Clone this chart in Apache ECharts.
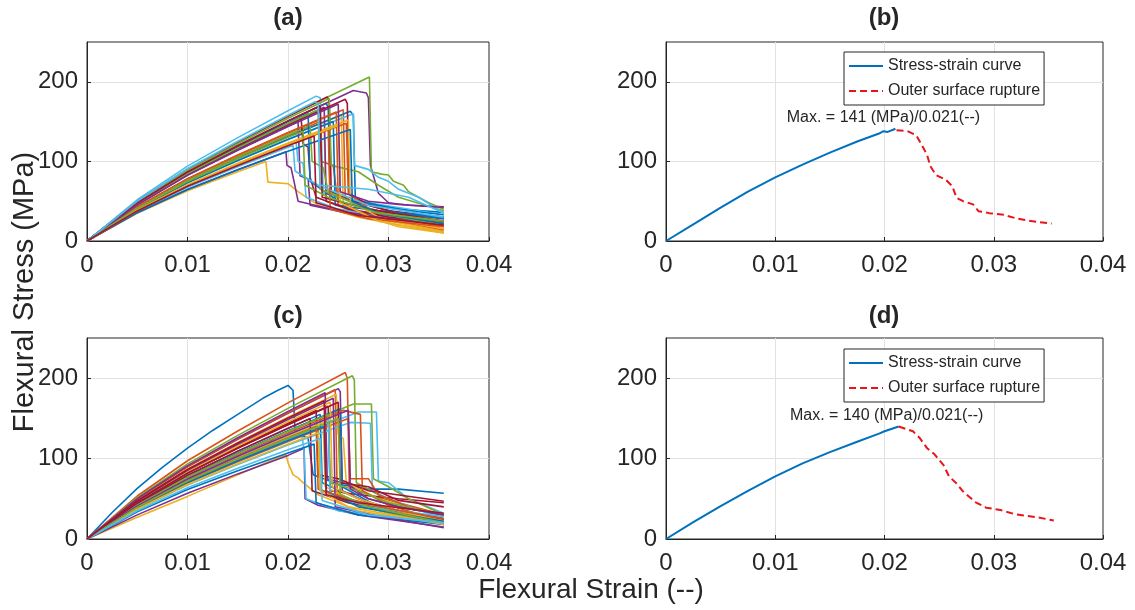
<!DOCTYPE html>
<html>
<head>
<meta charset="utf-8">
<script src="https://cdn.jsdelivr.net/npm/echarts@6/dist/echarts.min.js"></script>
<style>
html,body{margin:0;padding:0;background:#fff;}
#chart{width:1135px;height:610px;}
</style>
</head>
<body>
<div id="chart"></div>
<script>
// ---------------- DATA ----------------
const xTicks = [0, 0.01, 0.02, 0.03, 0.04];
const yTicks = [0, 100, 200];
const panelTitles = ['(a)', '(b)', '(c)', '(d)'];
const xAxisName = 'Flexural Strain (--)';
const yAxisName = 'Flexural Stress (MPa)';
const legendNames = ['Stress-strain curve', 'Outer surface rupture'];

// panel (a): individual specimen curves [strain, stress]
const curvesA = [
[[0,0],[0.005,47.5],[0.01,86.4],[0.015,119.3],[0.02,150.4],[0.0238,173],[0.0240,168],[0.0242,58],[0.027,48],[0.031,40],[0.0355,36]],
[[0,0],[0.005,42.9],[0.01,78],[0.015,107.7],[0.02,135.8],[0.0255,165],[0.0257,55],[0.028,40],[0.031,28],[0.0355,20]],
[[0,0],[0.005,41.3],[0.01,75.2],[0.015,103.7],[0.02,130.8],[0.0253,158],[0.0255,45],[0.028,30],[0.031,18],[0.0355,10]],
[[0,0],[0.005,47.7],[0.01,86.7],[0.015,119.6],[0.02,150.8],[0.0265,189],[0.0278,186],[0.0280,180],[0.0282,95],[0.029,60],[0.030,48],[0.032,45],[0.0355,43]],
[[0,0],[0.005,49.6],[0.01,90.1],[0.015,124],[0.02,157],[0.0281,206],[0.0283,87],[0.0293,84],[0.030,83],[0.0305,75],[0.0315,70],[0.032,62],[0.033,55],[0.034,48],[0.0355,40]],
[[0,0],[0.005,51.8],[0.01,94.1],[0.015,129.9],[0.02,163.7],[0.0228,182],[0.0232,180],[0.0235,60],[0.027,50],[0.031,42],[0.0355,33]],
[[0,0],[0.005,49.6],[0.01,90.1],[0.015,124.4],[0.02,156.8],[0.0239,181],[0.0241,176],[0.0243,62],[0.026,52],[0.028,45],[0.030,38],[0.0355,30]],
[[0,0],[0.005,41.5],[0.01,75.4],[0.015,104.1],[0.02,131.2],[0.0262,163],[0.0265,158],[0.0267,52],[0.029,45],[0.032,38],[0.0355,33]],
[[0,0],[0.005,42.1],[0.01,76.5],[0.015,105.6],[0.02,133.1],[0.0232,150],[0.0233,100],[0.0245,95],[0.025,45],[0.029,30],[0.0355,15]],
[[0,0],[0.005,38.2],[0.01,69.4],[0.015,95.8],[0.02,120.8],[0.0236,138],[0.0238,50],[0.028,30],[0.0355,12]],
[[0,0],[0.005,46.5],[0.01,84.5],[0.015,116.6],[0.02,147],[0.0236,168],[0.0238,50],[0.027,38],[0.031,30],[0.0355,25]],
[[0,0],[0.005,48.7],[0.01,88.6],[0.015,122.2],[0.02,154.1],[0.0241,179],[0.0243,95],[0.026,90],[0.027,87],[0.029,70],[0.031,55],[0.0355,38]],
[[0,0],[0.005,40.3],[0.01,73.4],[0.015,101.2],[0.02,127.7],[0.0265,160],[0.0266,95],[0.028,90],[0.029,80],[0.030,75],[0.031,65],[0.032,60],[0.033,55],[0.0355,35]],
[[0,0],[0.005,46],[0.01,83.7],[0.015,115.5],[0.02,145.6],[0.0257,178],[0.0259,173],[0.0261,60],[0.028,45],[0.031,35],[0.0355,28]],
[[0,0],[0.005,40.3],[0.01,73.2],[0.015,101],[0.02,127.4],[0.0245,150],[0.0247,45],[0.029,38],[0.0355,30]],
[[0,0],[0.005,38.1],[0.01,69.4],[0.015,95.7],[0.02,120.7],[0.0258,148],[0.0260,60],[0.029,32],[0.0355,18]],
[[0,0],[0.005,34.7],[0.01,63.1],[0.015,87],[0.0178,100],[0.0180,74],[0.0200,72],[0.0210,62],[0.023,45],[0.027,30],[0.031,20],[0.0355,12]],
[[0,0],[0.005,45.5],[0.01,82.8],[0.015,114.3],[0.02,144.1],[0.0210,150],[0.0212,82],[0.022,78],[0.0222,45],[0.026,35],[0.0355,25]],
[[0,0],[0.005,42.1],[0.01,76.6],[0.015,105.7],[0.02,133.3],[0.0222,145],[0.0224,100],[0.0235,92],[0.024,62],[0.028,40],[0.0355,22]],
[[0,0],[0.005,38.3],[0.01,69.6],[0.015,96],[0.02,121.1],[0.0208,125],[0.0210,100],[0.0215,98],[0.0218,55],[0.025,40],[0.0355,20]],
[[0,0],[0.005,46.5],[0.01,84.6],[0.015,116.8],[0.02,147.3],[0.0213,155],[0.0215,122],[0.022,118],[0.0222,80],[0.0228,55],[0.026,40],[0.030,30],[0.0355,22]],
[[0,0],[0.005,46.8],[0.01,85.1],[0.015,117.5],[0.02,148.1],[0.0220,160],[0.0222,75],[0.025,50],[0.029,38],[0.0355,28]],
[[0,0],[0.005,43.1],[0.01,78.3],[0.015,108.1],[0.02,136.3],[0.0248,162],[0.0250,50],[0.028,32],[0.0355,14]],
[[0,0],[0.005,38.9],[0.01,70.8],[0.015,97.7],[0.02,123.2],[0.0260,152],[0.0262,50],[0.029,30],[0.0355,15]],
[[0,0],[0.005,35.7],[0.01,64.8],[0.015,89.5],[0.0198,112],[0.0199,95],[0.0203,92],[0.0206,75],[0.021,50],[0.025,38],[0.030,28],[0.0355,22]],
[[0,0],[0.005,46.6],[0.01,84.8],[0.015,117],[0.02,147.6],[0.0230,165],[0.0232,65],[0.027,45],[0.031,30],[0.0355,20]],
[[0,0],[0.005,37.2],[0.01,67.6],[0.015,93.3],[0.02,117.8],[0.0205,120],[0.0207,88],[0.023,70],[0.025,60],[0.028,45],[0.0355,30]],
[[0,0],[0.005,47.7],[0.01,86.7],[0.015,119.6],[0.02,150.9],[0.0232,170],[0.0234,55],[0.028,40],[0.0355,25]],
[[0,0],[0.005,35.6],[0.01,64.8],[0.015,89.4],[0.02,112.7],[0.0262,140],[0.0264,50],[0.029,35],[0.0355,22]],
[[0,0],[0.005,38.2],[0.01,69.5],[0.015,95.9],[0.02,120.9],[0.0240,140],[0.0242,40],[0.028,28],[0.0355,18]],
[[0,0],[0.005,38.3],[0.01,69.7],[0.015,96.2],[0.02,121.3],[0.0250,145],[0.0252,48],[0.029,25],[0.0355,10]],
[[0,0],[0.005,45.4],[0.01,82.6],[0.015,114],[0.02,143.8],[0.0250,172],[0.0252,62],[0.028,50],[0.031,46],[0.0355,42]],
[[0,0],[0.005,41.1],[0.01,74.8],[0.015,103.2],[0.02,130.2],[0.0215,138],[0.0217,70],[0.024,55],[0.029,35],[0.0355,25]],
[[0,0],[0.005,50],[0.01,90.8],[0.015,125.3],[0.02,158],[0.0227,175],[0.0230,172],[0.0232,70],[0.028,65],[0.032,55],[0.0355,35]],
[[0,0],[0.005,37.8],[0.01,68.8],[0.015,94.9],[0.02,119.7],[0.0226,132],[0.0228,48],[0.027,32],[0.0355,20]]
];

// panel (c): individual specimen curves [strain, stress]
const curvesC = [
[[0,0],[0.0025,33],[0.005,63],[0.0075,89],[0.01,113],[0.0125,135],[0.015,155],[0.0175,175],[0.0190,185],[0.0200,191],[0.0205,185],[0.0207,135],[0.0215,128],[0.022,125],[0.0225,80],[0.025,68],[0.028,62],[0.031,62],[0.0355,57]],
[[0,0],[0.005,53.5],[0.01,97.3],[0.015,134.3],[0.02,169.3],[0.0257,207],[0.0259,200],[0.0261,65],[0.028,55],[0.031,45],[0.0355,30]],
[[0,0],[0.005,27],[0.01,53],[0.015,80],[0.0198,105],[0.0200,95],[0.0205,80],[0.021,76],[0.0215,70],[0.023,55],[0.027,35],[0.0355,18]],
[[0,0],[0.005,49.4],[0.01,89.8],[0.015,124],[0.02,156.3],[0.0250,187],[0.0252,183],[0.0254,60],[0.028,45],[0.031,35],[0.0355,18]],
[[0,0],[0.005,51.4],[0.01,93.4],[0.015,128.9],[0.02,162.5],[0.0264,203],[0.0266,198],[0.0268,70],[0.029,55],[0.032,40],[0.0355,28]],
[[0,0],[0.005,39.3],[0.01,71.4],[0.015,98.5],[0.02,124.2],[0.0270,158],[0.0288,158],[0.0290,72],[0.030,70],[0.032,50],[0.0355,32]],
[[0,0],[0.005,45.1],[0.01,81.9],[0.015,113],[0.02,142.5],[0.0240,165],[0.0242,60],[0.027,55],[0.031,50],[0.0355,45]],
[[0,0],[0.005,43.5],[0.01,79.1],[0.015,109.1],[0.02,137.6],[0.0232,155],[0.0234,70],[0.027,50],[0.031,35],[0.0355,25]],
[[0,0],[0.005,49.6],[0.01,90.2],[0.015,124.5],[0.02,157],[0.0247,186],[0.0249,55],[0.027,45],[0.031,30],[0.0355,20]],
[[0,0],[0.005,47.9],[0.01,87],[0.015,120.1],[0.02,151.4],[0.0248,180],[0.0250,130],[0.0255,125],[0.0258,70],[0.029,50],[0.0355,28]],
[[0,0],[0.005,50.2],[0.01,91.2],[0.015,125.9],[0.02,158.7],[0.0237,182],[0.0239,75],[0.026,68],[0.028,50],[0.031,40],[0.0355,30]],
[[0,0],[0.005,42.4],[0.01,77],[0.015,106.3],[0.02,134],[0.0265,168],[0.0283,168],[0.0285,75],[0.030,65],[0.032,50],[0.0355,30]],
[[0,0],[0.005,36.9],[0.01,67.1],[0.015,92.6],[0.02,116.8],[0.0262,145],[0.0282,144],[0.0284,60],[0.030,50],[0.0355,25]],
[[0,0],[0.005,45.5],[0.01,82.7],[0.015,114.1],[0.02,143.9],[0.0228,160],[0.0230,80],[0.025,75],[0.028,60],[0.0355,47]],
[[0,0],[0.005,42.6],[0.01,77.4],[0.015,106.8],[0.02,134.7],[0.0252,162],[0.0254,65],[0.029,40],[0.0355,25]],
[[0,0],[0.005,41.6],[0.01,75.7],[0.015,104.5],[0.02,131.7],[0.0255,160],[0.0272,155],[0.0274,60],[0.030,42],[0.0355,22]],
[[0,0],[0.005,40.3],[0.01,73.2],[0.015,101],[0.02,127.4],[0.0235,145],[0.0237,65],[0.027,45],[0.0355,20]],
[[0,0],[0.005,30],[0.01,57],[0.015,81],[0.02,104],[0.0216,113],[0.0217,50],[0.023,42],[0.027,30],[0.0355,15]],
[[0,0],[0.005,39.6],[0.01,72],[0.015,99.4],[0.02,125.3],[0.0230,140],[0.0232,62],[0.026,45],[0.030,32],[0.0355,18]],
[[0,0],[0.005,38.3],[0.01,69.6],[0.015,96.1],[0.02,121.1],[0.0214,128],[0.0216,110],[0.0218,50],[0.025,35],[0.0355,20]],
[[0,0],[0.005,43.6],[0.01,79.2],[0.015,109.3],[0.02,137.8],[0.0222,150],[0.0224,60],[0.026,45],[0.0355,25]],
[[0,0],[0.005,33.8],[0.01,61.5],[0.015,84.9],[0.02,107],[0.0226,118],[0.0228,45],[0.027,30],[0.0355,18]],
[[0,0],[0.005,38.4],[0.01,69.9],[0.015,96.4],[0.02,121.6],[0.0260,150],[0.0262,75],[0.028,75],[0.029,55],[0.032,40],[0.0355,30]],
[[0,0],[0.005,46.1],[0.01,83.8],[0.015,115.6],[0.02,145.8],[0.0242,170],[0.0244,65],[0.027,50],[0.031,35],[0.0355,22]],
[[0,0],[0.005,47],[0.01,85.4],[0.015,117.9],[0.02,148.6],[0.0245,175],[0.0247,40],[0.029,28],[0.0355,14]],
[[0,0],[0.005,42.3],[0.01,77],[0.015,106.2],[0.02,133.9],[0.0240,155],[0.0242,70],[0.027,60],[0.030,45],[0.0355,30]],
[[0,0],[0.005,41],[0.01,74.5],[0.015,102.8],[0.02,129.6],[0.0240,150],[0.0242,55],[0.028,40],[0.0355,28]],
[[0,0],[0.005,44.9],[0.01,81.7],[0.015,112.7],[0.02,142.2],[0.0250,170],[0.0252,70],[0.028,65],[0.031,48],[0.0355,40]],
[[0,0],[0.005,38.7],[0.01,70.4],[0.015,97.2],[0.02,122.5],[0.0236,140],[0.0238,60],[0.027,40],[0.0355,22]],
[[0,0],[0.005,39.8],[0.01,72.4],[0.015,99.9],[0.02,125.9],[0.0228,140],[0.0230,62],[0.026,50],[0.030,38],[0.0355,25]],
[[0,0],[0.005,37.3],[0.01,67.8],[0.015,93.6],[0.02,118],[0.0230,132],[0.0232,60],[0.026,40],[0.0355,18]],
[[0,0],[0.005,41],[0.01,74.5],[0.015,102.8],[0.02,129.6],[0.0260,160],[0.0262,62],[0.028,50],[0.031,40],[0.0355,30]],
[[0,0],[0.005,39.6],[0.01,72.1],[0.015,99.5],[0.02,125.4],[0.0250,150],[0.0252,55],[0.028,40],[0.0355,20]],
[[0,0],[0.005,35.1],[0.01,63.8],[0.015,88],[0.02,111],[0.0232,125],[0.0234,48],[0.028,30],[0.0355,20]],
[[0,0],[0.005,47.6],[0.01,86.5],[0.015,119.4],[0.02,150.5],[0.0236,172],[0.0238,55],[0.027,45],[0.0355,32]]
];

// panel (b): representative curve
const stressStrainB = [[0,0],[0.0025,21],[0.005,42],[0.0075,62],[0.01,80],[0.0125,96],[0.015,111],[0.0175,125],[0.0195,135],[0.0199,138],[0.0203,137],[0.021,141]];
const ruptureB = [[0.0211,139],[0.0221,138],[0.0229,133],[0.0234,121],[0.0239,108],[0.0242,94],[0.0247,83],[0.0256,77],[0.0262,69],[0.0266,54],[0.0272,50],[0.0281,46],[0.0286,37.5],[0.0296,35],[0.0309,33],[0.0319,29],[0.0330,26],[0.0340,24],[0.0353,22]];
const peakB = [0.021, 141];

// panel (d): representative curve
const stressStrainD = [[0,0],[0.0025,21],[0.005,41],[0.0075,60],[0.01,78],[0.0125,94],[0.015,108],[0.0175,121],[0.0195,131],[0.02,134],[0.0213,140]];
const ruptureD = [[0.0213,140],[0.0226,134],[0.0232,126],[0.0239,113],[0.0246,105],[0.0254,92],[0.0259,78],[0.0266,69],[0.0272,59],[0.0283,46],[0.0293,39],[0.0306,36],[0.0319,31],[0.0340,27],[0.0355,23]];
const peakD = [0.0213, 140];

// ---------------- STYLE / LAYOUT ----------------
const FONT = '"Liberation Sans", Arial, Helvetica, sans-serif';
const TXT = '#262626';
const matlabColors = ['#0072BD','#D95319','#EDB120','#7E2F8E','#77AC30','#4DBEEE','#A2142F'];
const gridBoxes = [
  {left:87, top:42, width:402, height:199},
  {left:666, top:42, width:437, height:199},
  {left:87, top:338, width:402, height:201},
  {left:666, top:338, width:437, height:201}
];

function fmtX(v){ return v === 0 ? '0' : v.toFixed(2); }
function fmtY(v){ return yTicks.indexOf(Math.round(v)) >= 0 ? String(Math.round(v)) : ''; }

const grid = gridBoxes.map(g => Object.assign({show:true, borderColor:TXT, borderWidth:1, backgroundColor:'#fff', containLabel:false}, g));
const xAxis = gridBoxes.map((g,i) => ({
  gridIndex:i, type:'value', min:xTicks[0], max:xTicks[xTicks.length-1], interval:0.01,
  axisLine:{show:true, onZero:false, lineStyle:{color:TXT, width:1}},
  axisTick:{show:true, inside:true, length:4, lineStyle:{color:TXT}},
  axisLabel:{fontSize:24, color:TXT, fontFamily:FONT, margin:12, formatter:fmtX},
  splitLine:{show:true, showMinLine:false, showMaxLine:false, lineStyle:{color:'#e2e2e2', width:1}}
}));
const yAxis = gridBoxes.map((g,i) => ({
  gridIndex:i, type:'value', min:0, max:250, interval:100,
  axisLine:{show:true, onZero:false, lineStyle:{color:TXT, width:1}},
  axisTick:{show:true, inside:true, length:4, lineStyle:{color:TXT}},
  axisLabel:{fontSize:24, color:TXT, fontFamily:FONT, margin:9, formatter:fmtY, showMaxLabel:false},
  splitLine:{show:true, showMinLine:false, showMaxLine:false, lineStyle:{color:'#e2e2e2', width:1}}
}));

const series = [];
curvesA.forEach((c,i) => series.push({
  type:'line', name:'a'+i, xAxisIndex:0, yAxisIndex:0, data:c, showSymbol:false, symbol:'none',
  lineStyle:{width:1.6, color:matlabColors[i%7]}, itemStyle:{color:matlabColors[i%7]}, silent:true, z:2
}));
curvesC.forEach((c,i) => series.push({
  type:'line', name:'c'+i, xAxisIndex:2, yAxisIndex:2, data:c, showSymbol:false, symbol:'none',
  lineStyle:{width:1.6, color:matlabColors[i%7]}, itemStyle:{color:matlabColors[i%7]}, silent:true, z:2
}));

function maxLabel(p){ return 'Max. = ' + p[1] + ' (MPa)/' + p[0].toFixed(3) + '(--)'; }

[[1, stressStrainB, ruptureB, peakB],[3, stressStrainD, ruptureD, peakD]].forEach(([gi, curve, rup, peak]) => {
  series.push({
    type:'line', name:legendNames[0], xAxisIndex:gi, yAxisIndex:gi, data:curve, showSymbol:false, symbol:'none',
    lineStyle:{width:2, color:'#0072BD'}, itemStyle:{color:'#0072BD'}, z:3,
    markPoint:{
      symbol:'circle', symbolSize:0, silent:true,
      data:[{coord:peak, value:0}],
      label:{show:true, position:'inside', offset:[-12,-11], formatter:maxLabel(peak), fontSize:16, color:TXT, fontFamily:FONT}
    }
  });
  series.push({
    type:'line', name:legendNames[1], xAxisIndex:gi, yAxisIndex:gi, data:rup, showSymbol:false, symbol:'none',
    lineStyle:{width:2, color:'#E8141A', type:[7,4]}, itemStyle:{color:'#E8141A'}, z:3
  });
});

const legendCommon = {
  orient:'vertical', data:legendNames, itemWidth:34, itemHeight:14, itemGap:9,
  padding:[6,4,6,4], borderColor:TXT, borderWidth:1, backgroundColor:'#fff',
  textStyle:{fontSize:16, color:TXT, fontFamily:FONT}, selectedMode:false,
  itemStyle:{opacity:0},
  lineStyle:{width:2}
};
const legend = [
  Object.assign({left:844, top:52}, legendCommon),
  Object.assign({left:844, top:349}, legendCommon)
];

const titleCenters = [[288,18],[884,18],[288,316],[884,316]];
const graphic = panelTitles.map((t,i) => ({
  type:'text', x:titleCenters[i][0], y:titleCenters[i][1], silent:true,
  style:{text:t, align:'center', verticalAlign:'middle', fontSize:24, fontWeight:'bold', fill:TXT, fontFamily:FONT}
}));
graphic.push({type:'text', x:591, y:590, silent:true,
  style:{text:xAxisName, align:'center', verticalAlign:'middle', fontSize:28, fill:TXT, fontFamily:FONT}});
graphic.push({type:'text', x:25, y:292, rotation:Math.PI/2, silent:true,
  style:{text:yAxisName, align:'center', verticalAlign:'middle', fontSize:29, fill:TXT, fontFamily:FONT}});

const chart = echarts.init(document.getElementById('chart'), null, {renderer:'canvas'});
chart.setOption({
  animation:false,
  backgroundColor:'#fff',
  grid, xAxis, yAxis, series, legend, graphic
});
</script>
</body>
</html>
